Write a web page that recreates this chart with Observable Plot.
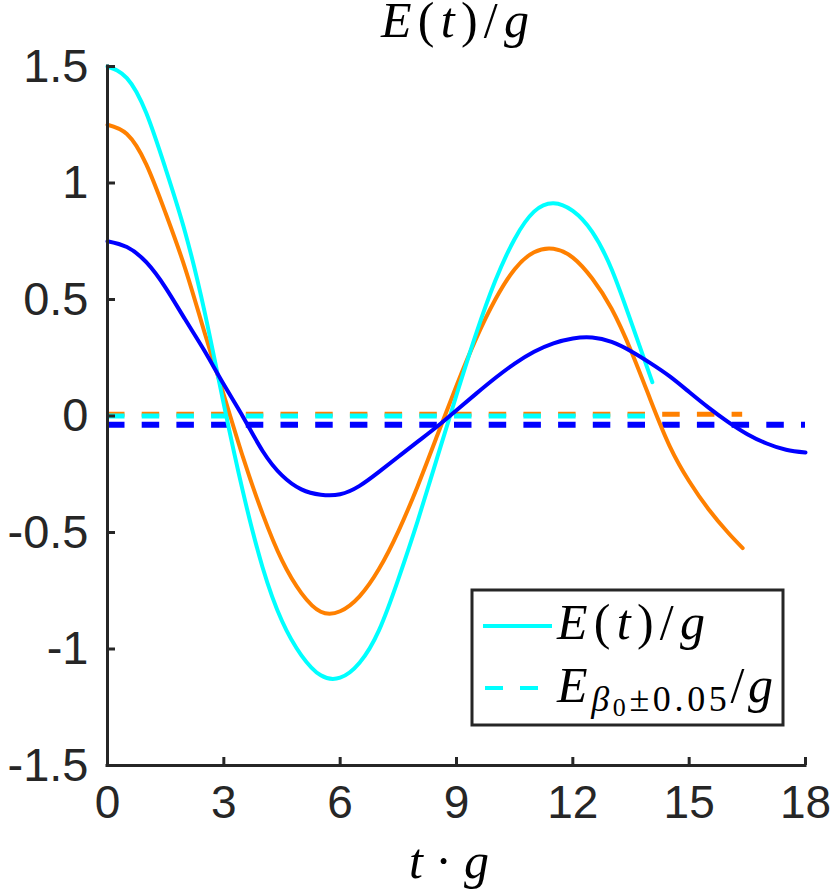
<!DOCTYPE html>
<html><head><meta charset="utf-8">
<script src="https://cdn.jsdelivr.net/npm/d3@7"></script>
<script src="https://cdn.jsdelivr.net/npm/@observablehq/plot@0.6"></script>
<style>html,body{margin:0;padding:0;background:#fff} svg{display:block}</style>
</head><body><div id="chart"></div>
<script>
// ---- data ----
const cyanT = [0,0.5,1,1.5,2,2.5,3,3.5,4,4.5,5,5.5,6,6.5,7,7.5,8,8.5,9,9.5,10,10.5,11,11.5,12,12.5,13,13.5,14.05];
const cyanE = [1.5,1.45,1.30,1.06,0.79,0.45,0.05,-0.33,-0.65,-0.88,-1.027,-1.113,-1.123,-1.059,-0.92,-0.70,-0.45,-0.18,0.09,0.35,0.58,0.76,0.877,0.913,0.88,0.79,0.63,0.405,0.145];

const orangeT = [0,0.5,1,1.5,2,2.5,3,3.5,4,4.5,5,5.5,6,6.5,7,7.5,8,8.5,9,9.5,10,10.5,11,11.5,12,12.5,13,13.5,14,14.5,15,15.5,16,16.38];
const orangeE = [1.25,1.21,1.08,0.87,0.635,0.36,0.09,-0.18,-0.42,-0.62,-0.76,-0.84,-0.838,-0.774,-0.657,-0.495,-0.30,-0.085,0.13,0.33,0.50,0.63,0.703,0.718,0.68,0.59,0.46,0.28,0.07,-0.13,-0.28,-0.40,-0.50,-0.567];

const blueT = [0,0.5,1,1.5,2,2.5,3,3.5,4,4.5,5,5.5,6,6.5,7,7.5,8,8.5,9,9.5,10,10.5,11,11.5,12,12.5,13,13.5,14,14.5,15,15.5,16,16.5,17,17.5,18];
const blueE = [0.75,0.725,0.66,0.55,0.415,0.28,0.135,-0.005,-0.15,-0.255,-0.315,-0.338,-0.336,-0.30,-0.24,-0.175,-0.11,-0.045,0.025,0.095,0.163,0.225,0.276,0.312,0.333,0.337,0.318,0.278,0.227,0.17,0.103,0.036,-0.025,-0.078,-0.118,-0.145,-0.157];

// constant (dashed) levels E_{beta0±0.05}/g and their t-extent
const dashLevel = {cyan: 0.0, orange: 0.008, blue: -0.038};
const dashEnd = {cyan: 14.05, orange: 16.38, blue: 18};

const xTicks = [0,3,6,9,12,15,18];
const yTicks = [-1.5,-1,-0.5,0,0.5,1,1.5];
const yTickLabels = ["-1.5","-1","-0.5","0","0.5","1","1.5"];

const colors = {cyan: "#00FFFF", orange: "#FF8000", blue: "#0000FF"};
const axisColor = "#262626";

const rows = (T, E) => T.map((t, i) => ({t, e: E[i]}));

const W = 830, H = 891;
const plot = Plot.plot({
  width: W, height: H,
  marginLeft: 107, marginRight: 25, marginTop: 66, marginBottom: 126,
  style: {background: "white", fontFamily: "Liberation Sans, Arial, sans-serif"},
  x: {domain: [0, 18]},
  y: {domain: [-1.5, 1.5]},
  marks: [
    // dashed levels
    Plot.ruleY([dashLevel.orange], {x1: 0, x2: dashEnd.orange, stroke: colors.orange, strokeWidth: 5, strokeDasharray: "17.5,17.2"}),
    Plot.ruleY([dashLevel.cyan], {x1: 0, x2: dashEnd.cyan, stroke: colors.cyan, strokeWidth: 5, strokeDasharray: "17.5,17.2"}),
    Plot.ruleY([dashLevel.blue], {x1: 0, x2: dashEnd.blue, stroke: colors.blue, strokeWidth: 6, strokeDasharray: "17.5,17.2"}),
    // solid curves
    Plot.line(rows(orangeT, orangeE), {x: "t", y: "e", stroke: colors.orange, strokeWidth: 4, curve: "natural"}),
    Plot.line(rows(cyanT, cyanE), {x: "t", y: "e", stroke: colors.cyan, strokeWidth: 4, curve: "natural"}),
    Plot.line(rows(blueT, blueE), {x: "t", y: "e", stroke: colors.blue, strokeWidth: 4, curve: "natural"}),
    // axes
    Plot.ruleX([0], {y1: -1.5, y2: 1.5, stroke: axisColor, strokeWidth: 3, strokeLinecap: "square"}),
    Plot.ruleY([-1.5], {x1: 0, x2: 18, stroke: axisColor, strokeWidth: 3, strokeLinecap: "square"}),
    Plot.axisX(xTicks, {anchor: "bottom", tickSize: -8, tickPadding: 28, strokeWidth: 3, color: axisColor, fontSize: 46, fontFamily: "Liberation Sans", label: null, tickFormat: d => String(d)}),
    Plot.axisY(yTicks, {anchor: "left", tickSize: -8, tickPadding: 27, strokeWidth: 3, color: axisColor, fontSize: 47, fontFamily: "Liberation Sans", label: null, tickFormat: d => yTickLabels[yTicks.indexOf(d)]})
  ]
});
document.getElementById("chart").appendChild(plot);

// ---- LaTeX-like texts: title, x label, legend ----
const svg = d3.select(plot);
const serif = "Liberation Serif, Times New Roman, serif";
const xs = plot.scale("x");
const cx = (xs.apply(0) + xs.apply(18)) / 2;

function mathText(g, x, y, parts, len) {
  const t = g.append("text").attr("x", x).attr("y", y)
    .attr("font-family", serif).attr("font-size", 50).attr("fill", "#000")
    .attr("text-anchor", "start").style("text-anchor", "start");
  if (len) t.attr("textLength", len).attr("lengthAdjust", "spacing");
  parts.forEach(p => {
    const s = t.append("tspan").text(p.s);
    if (p.i) s.attr("font-style", "italic");
    if (p.fs) s.attr("font-size", p.fs);
    if (p.dy) s.attr("dy", p.dy);
  });
  return t;
}
const EtgParts = [{s: "E", i: 1}, {s: "("}, {s: "t", i: 1}, {s: ")"}, {s: "/"}, {s: "g", i: 1}];

// title
mathText(svg, cx - 75, 37, EtgParts, 148);
// x label
mathText(svg, cx - 47, 878, [{s: "t", i: 1}, {s: " · "}, {s: "g", i: 1}], 80);

// legend
const lg = svg.append("g");
lg.append("rect").attr("x", 472).attr("y", 590).attr("width", 311).attr("height", 135)
  .attr("fill", "white").attr("stroke", axisColor).attr("stroke-width", 3);
lg.append("line").attr("x1", 483).attr("x2", 552).attr("y1", 626).attr("y2", 626)
  .attr("stroke", colors.cyan).attr("stroke-width", 4);
lg.append("line").attr("x1", 485).attr("x2", 552).attr("y1", 688).attr("y2", 688)
  .attr("stroke", colors.cyan).attr("stroke-width", 4).attr("stroke-dasharray", "18,17");
mathText(lg, 557, 639, EtgParts, 148);
mathText(lg, 557, 702, [
  {s: "E", i: 1},
  {s: "β", i: 1, fs: 36, dy: 9},
  {s: "0", fs: 26, dy: 5},
  {s: "±0.05", fs: 36, dy: -5},
  {s: "/", fs: 50, dy: -9},
  {s: "g", i: 1}
], 216);
</script>
</body></html>
